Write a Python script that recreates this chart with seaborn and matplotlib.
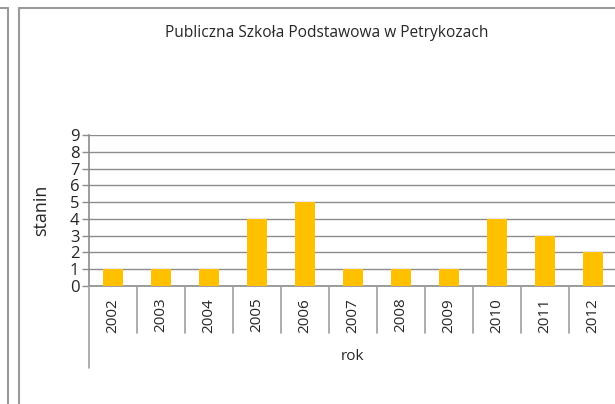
import pandas as pd
import matplotlib
matplotlib.use("Agg")
import matplotlib.pyplot as plt
import seaborn as sns
from matplotlib.lines import Line2D

# data
years = ["2002", "2003", "2004", "2005", "2006", "2007", "2008", "2009", "2010", "2011", "2012"]
stanin = [1, 1, 1, 4, 5, 1, 1, 1, 4, 3, 2]
title = "Publiczna Szkoła Podstawowa w Petrykozach"

df = pd.DataFrame({"rok": years, "stanin": stanin})

sns.set_style("white")
plt.rcParams["font.family"] = ["Open Sans", "DejaVu Sans"]

W, H = 615, 404
fig = plt.figure(figsize=(W / 100, H / 100), dpi=100)

# plot area in pixel coordinates
x0, x1 = 89, 617
y_top, y_bot = 135, 286
ax = fig.add_axes([x0 / W, 1 - y_bot / H, (x1 - x0) / W, (y_bot - y_top) / H])

sns.barplot(data=df, x="rok", y="stanin", color="#FFC000", width=0.4,
            saturation=1, linewidth=0, ax=ax, zorder=3)
ax.set_xlim(-0.5, len(years) - 0.5)
ax.set_ylim(0, 9)
ax.set_yticks(range(0, 10))
ax.yaxis.grid(True, color="#8c8c8c", linewidth=1.0, zorder=0)
ax.tick_params(axis="y", left=True, length=5, width=1, color="#8c8c8c",
               labelsize=12, pad=2)
ax.tick_params(axis="x", bottom=False, labelsize=11, labelrotation=90, pad=5)
for s in ["top", "right"]:
    ax.spines[s].set_visible(False)
for s in ["left", "bottom"]:
    ax.spines[s].set_color("#8c8c8c")
    ax.spines[s].set_linewidth(1.2)
ax.set_xlabel("")
ax.set_ylabel("stanin", fontsize=13, labelpad=14)

# category separators and the long left bracket of the axis
grey = "#a0a0a0"
for i in range(1, len(years) + 1):
    xp = (x0 + i * 48) / W
    fig.add_artist(Line2D([xp, xp], [1 - y_bot / H, 1 - 333 / H], color=grey, lw=1.2))
fig.add_artist(Line2D([x0 / W, x0 / W], [1 - y_bot / H, 1 - 368 / H], color=grey, lw=1.2))

fig.text((x0 + x1) / 2 / W, 1 - 357 / H, "rok", ha="center", va="center", fontsize=11)
fig.text(327 / W, 1 - 33 / H, title, ha="center", va="center", fontsize=11.2)

# outer frames
fc = "#9a9a9a"
fig.add_artist(Line2D([8 / W, 8 / W], [0, 1 - 8 / H], color=fc, lw=1.5))
fig.add_artist(Line2D([0, 8 / W], [1 - 8 / H, 1 - 8 / H], color=fc, lw=1.5))
fig.add_artist(Line2D([19 / W, 19 / W], [0, 1 - 8 / H], color=fc, lw=1.5))
fig.add_artist(Line2D([19 / W, 1], [1 - 8 / H, 1 - 8 / H], color=fc, lw=1.5))

fig.savefig("out.png", dpi=100)
